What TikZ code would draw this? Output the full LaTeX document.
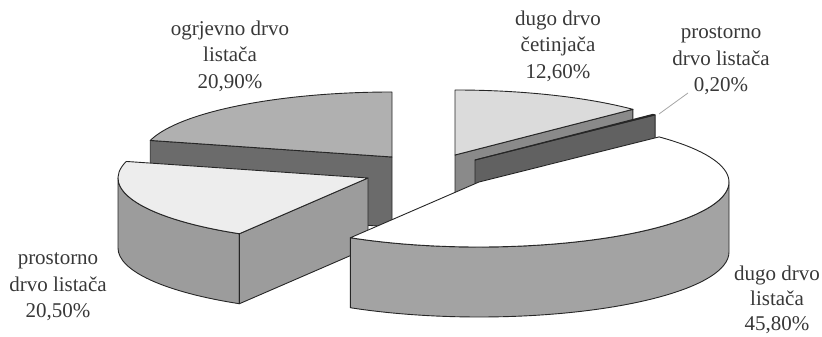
\documentclass[tikz,border=0pt]{standalone}
\usepackage{fontspec}
\setmainfont{Liberation Serif}
\definecolor{ogrTop}{gray}{0.69}
\definecolor{ogrSide}{gray}{0.42}
\definecolor{cetTop}{gray}{0.86}
\definecolor{cetSide}{gray}{0.54}
\definecolor{malaSide}{gray}{0.38}
\definecolor{prTop}{gray}{0.93}
\definecolor{prSide}{gray}{0.61}
\definecolor{dlTop}{gray}{1}
\definecolor{dlSide}{gray}{0.64}
\definecolor{lbl}{gray}{0.22}
\tikzset{
  slice/.style={draw=black!85, line width=0.9pt, line join=round},
  rim/.style={x radius=250pt, y radius=65pt},
  pielabel/.style={align=center, text=lbl, font=\fontsize{21}{26.5}\selectfont, inner sep=0pt}
}
\begin{document}
\begin{tikzpicture}[x=1pt, y=1pt]
\useasboundingbox (0,0) rectangle (822,337);
\coordinate (ogr) at (392,180);
\coordinate (cet) at (455,182);
\coordinate (mala) at (475,177);
\coordinate (pr) at (368,159);
\coordinate (dl) at (479,155);
\draw[slice, fill=ogrSide] (ogr) -- ++(165.24:250pt and 65pt) -- ++(0,-70) -- ++(-14.76:250pt and 65pt) -- cycle;
\draw[slice, fill=ogrTop] (ogr) -- ++(90:250pt and 65pt) arc[start angle=90, end angle=165.24, rim] -- cycle;
\draw[slice, fill=cetSide] (cet) -- ++(44.64:250pt and 65pt) -- ++(0,-70) -- ++(224.64:250pt and 65pt) -- cycle;
\draw[slice, fill=cetTop] (cet) -- ++(44.64:250pt and 65pt) arc[start angle=44.64, end angle=90, rim] -- cycle;
\draw[slice, fill=malaSide] (mala) -- ++(43.92:250pt and 65pt) -- ++(0,-70) -- ++(223.92:250pt and 65pt) -- cycle;
\draw[slice, fill=malaSide] (mala) -- ++(43.92:250pt and 65pt) arc[start angle=43.92, end angle=44.64, rim] -- cycle;
\draw[slice, fill=prSide] (pr) ++(180:250pt and 65pt) arc[start angle=180, end angle=239.04, rim] -- ++(0,-70) arc[start angle=239.04, end angle=180, rim] -- cycle;
\draw[slice, fill=prSide] (pr) -- ++(239.04:250pt and 65pt) -- ++(0,-70) -- ++(59.04:250pt and 65pt) -- cycle;
\draw[slice, fill=prTop] (pr) -- ++(165.24:250pt and 65pt) arc[start angle=165.24, end angle=239.04, rim] -- cycle;
\draw[slice, fill=dlSide] (dl) ++(-120.96:250pt and 65pt) arc[start angle=-120.96, end angle=0, rim] -- ++(0,-70) arc[start angle=0, end angle=-120.96, rim] -- cycle;
\draw[slice, fill=dlTop] (dl) -- ++(-120.96:250pt and 65pt) arc[start angle=-120.96, end angle=43.92, rim] -- cycle;
\node[pielabel] (ogrlabel) at (230,281) {ogrjevno drvo\\listača\\20,90\%};
\node[pielabel] (cetlabel) at (558,291) {dugo drvo\\četinjača\\12,60\%};
\node[pielabel] (malalabel) at (721,276) {prostorno\\drvo listača\\0,20\%};
\node[pielabel] (prlabel) at (58,50) {prostorno\\drvo listača\\20,50\%};
\node[pielabel, font=\fontsize{21}{25}\selectfont] (dllabel) at (777,37) {dugo drvo\\listača\\45,80\%};
\coordinate (malatip) at (659,223);
\draw[black!35, line width=0.8pt] (688,244) -- (malatip);
\end{tikzpicture}
\end{document}
